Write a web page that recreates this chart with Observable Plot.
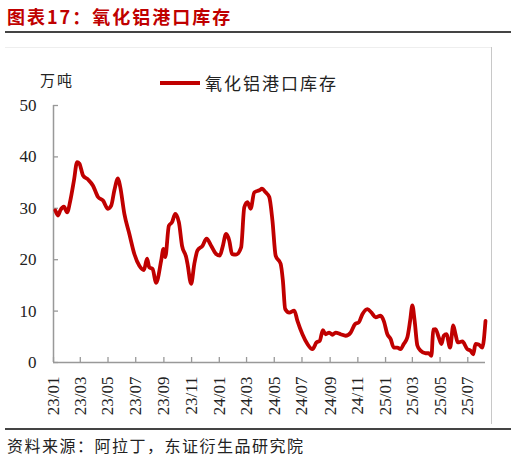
<!DOCTYPE html>
<html><head><meta charset="utf-8">
<script src="https://cdn.jsdelivr.net/npm/d3@7"></script>
<script src="https://cdn.jsdelivr.net/npm/@observablehq/plot@0.6"></script>
<style>
html,body{margin:0;padding:0;background:#fff;}
#wrap{position:relative;width:516px;height:460px;overflow:hidden;font-family:"Noto Sans CJK SC",sans-serif;}
.abs{position:absolute;}
</style></head>
<body><div id="wrap">
<div class="abs" id="title" style="left:7px;top:3px;font-size:18px;font-weight:bold;color:#c00000;letter-spacing:2px;white-space:nowrap;line-height:26px;"></div>
<div class="abs" style="left:5px;top:31px;width:506px;height:2px;background:#444;"></div>
<div class="abs" style="left:5px;top:47px;width:487px;height:1px;background:#eeeeee;"></div>
<div class="abs" style="left:491px;top:47px;width:1px;height:377px;background:#c8c8c8;"></div>
<div class="abs" id="unit" style="left:40px;top:69px;font-size:15px;color:#222;letter-spacing:2px;line-height:22px;"></div>
<div class="abs" style="left:160px;top:81px;width:40px;height:4px;background:#c00000;"></div>
<div class="abs" id="legend" style="left:205px;top:71px;font-size:17px;color:#222;letter-spacing:2px;line-height:24px;white-space:nowrap;"></div>
<div class="abs" id="chart" style="left:0;top:40px;"></div>
<div class="abs" style="left:5px;top:428px;width:506px;height:2px;background:#444;"></div>
<div class="abs" id="source" style="left:7px;top:434px;font-size:16px;color:#222;letter-spacing:1.5px;line-height:22px;white-space:nowrap;"></div>
</div>
<script>
const titleText = "图表17：氧化铝港口库存";
const unitText = "万吨";
const seriesName = "氧化铝港口库存";
const sourceText = "资料来源：阿拉丁，东证衍生品研究院";

const dates = ["2023-01-05","2023-01-11","2023-01-16","2023-01-24","2023-01-31","2023-02-07","2023-02-15","2023-02-22","2023-02-27","2023-03-07","2023-03-18","2023-03-29","2023-04-09","2023-04-20","2023-05-01","2023-05-08","2023-05-15","2023-05-23","2023-05-28","2023-06-06","2023-06-17","2023-06-28","2023-07-09","2023-07-19","2023-07-26","2023-07-31","2023-08-07","2023-08-15","2023-08-26","2023-08-31","2023-09-04","2023-09-12","2023-09-19","2023-09-26","2023-10-04","2023-10-11","2023-10-20","2023-10-23","2023-10-31","2023-11-07","2023-11-14","2023-11-25","2023-12-04","2023-12-14","2023-12-25","2024-01-02","2024-01-08","2024-01-16","2024-01-23","2024-01-29","2024-02-07","2024-02-18","2024-02-25","2024-03-03","2024-03-10","2024-03-18","2024-03-29","2024-04-04","2024-04-12","2024-04-20","2024-04-27","2024-05-04","2024-05-15","2024-05-20","2024-05-25","2024-06-03","2024-06-14","2024-06-21","2024-07-02","2024-07-13","2024-07-24","2024-08-02","2024-08-09","2024-08-16","2024-08-22","2024-08-30","2024-09-06","2024-09-13","2024-09-24","2024-10-05","2024-10-16","2024-10-26","2024-11-03","2024-11-11","2024-11-22","2024-12-01","2024-12-10","2024-12-21","2024-12-28","2025-01-05","2025-01-12","2025-01-19","2025-01-27","2025-02-03","2025-02-10","2025-02-18","2025-02-24","2025-03-01","2025-03-06","2025-03-12","2025-03-19","2025-03-30","2025-04-06","2025-04-12","2025-04-16","2025-04-21","2025-04-28","2025-05-04","2025-05-09","2025-05-15","2025-05-23","2025-05-30","2025-06-04","2025-06-09","2025-06-19","2025-06-30","2025-07-07","2025-07-13","2025-07-18","2025-07-25","2025-08-02","2025-08-09"];
const values = [29.6,28.6,29.6,30.3,29.2,31.5,35.4,39.0,38.7,36.4,35.6,34.4,32.2,31.5,29.9,30.5,33.5,35.8,34.1,28.9,25.0,21.1,18.8,18.0,20.2,18.5,18.2,15.5,19.8,22.1,20.5,26.6,27.3,28.9,27.3,22.7,20.5,19.2,15.3,19.2,21.8,22.7,24.1,22.7,21.1,20.8,22.4,25.0,23.7,21.1,21.0,22.4,30.2,31.2,29.9,33.1,33.5,33.8,33.1,32.2,27.6,20.8,19.2,15.9,10.4,9.7,10.1,8.1,5.5,3.6,2.6,3.9,4.2,6.3,5.5,5.8,5.4,5.8,5.5,5.2,5.8,7.5,7.8,9.4,10.4,9.7,8.8,9.1,8.1,5.5,4.6,2.9,2.9,2.6,3.6,4.9,8.1,11.1,8.1,3.3,2.3,1.8,1.8,1.3,6.4,6.5,4.9,3.6,5.2,5.5,2.9,7.2,5.5,3.9,4.1,2.6,2.3,1.6,3.6,3.5,2.9,8.1];
const xStart = "2023-01-01";
const xTickStart = "2023-01-01";
const xTickEnd = "2025-07-01";
const yTicks = [0,10,20,30,40,50];

document.getElementById("title").textContent = titleText;
document.getElementById("unit").textContent = unitText;
document.getElementById("legend").textContent = seriesName;
document.getElementById("source").textContent = sourceText;

const parse = d3.utcParse("%Y-%m-%d");
const data = dates.map((d,i) => ({date: parse(d), value: values[i]}));
const x0 = parse(xStart);
const x1 = data[data.length-1].date;
const xTicks = d3.utcMonth.every(2).range(parse(xTickStart), d3.utcDay.offset(parse(xTickEnd),1));
const fmt = d3.utcFormat("%y/%m");
const axisColor = "#999";
const blank = () => "";

const chart = Plot.plot({
  width: 516,
  height: 385,
  marginTop: 65,
  marginBottom: 63,
  marginLeft: 53,
  marginRight: 31,
  style: {fontFamily: "'Liberation Serif', serif", fontSize: "17px", color: "#222", background: "transparent"},
  x: {type: "utc", domain: [x0, x1], label: null},
  y: {domain: [0, 50], label: null},
  marks: [
    Plot.axisY({ticks: yTicks, tickSize: 0, tickPadding: 17, fontSize: 17, label: null}),
    Plot.axisY({ticks: yTicks, tickSize: 5, dx: 5, tickFormat: blank, stroke: axisColor, strokeWidth: 1.3, label: null}),
    Plot.axisX({ticks: xTicks, tickFormat: fmt, tickRotate: -90, tickSize: 0, tickPadding: 14, fontSize: 17, label: null}),
    Plot.axisX({ticks: xTicks, tickSize: 5, dy: -5, tickFormat: blank, stroke: axisColor, strokeWidth: 1.3, label: null}),
    Plot.ruleX([x0], {stroke: axisColor, strokeWidth: 1.5}),
    Plot.ruleY([0], {stroke: axisColor, strokeWidth: 1.5}),
    Plot.line(data, {x: "date", y: "value", stroke: "#c00000", strokeWidth: 3.8, curve: "monotone-x"})
  ]
});
document.getElementById("chart").appendChild(chart);
</script>
</body></html>
